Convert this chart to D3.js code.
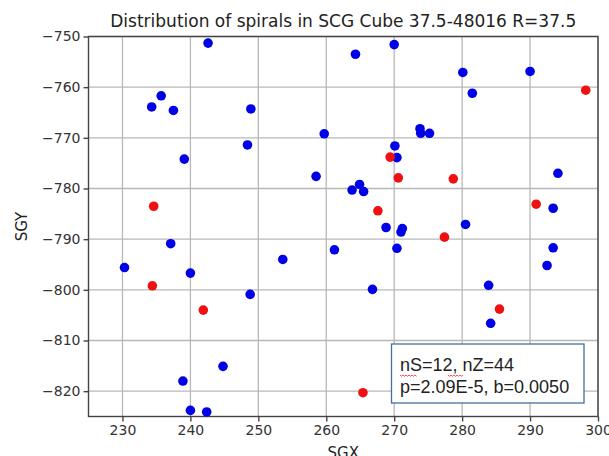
<!DOCTYPE html>
<meta charset="utf-8">
<style>
body { margin: 0; background: #fff; }
text { font-family: "DejaVu Sans", sans-serif; fill: #222; }
.grid line { stroke: #b8b8b8; stroke-width: 1.3; }
.axis path, .axis line { stroke: #444; stroke-width: 1.4; }
.axis text { font-size: 14px; fill: #333; }
.note { font-family: "Liberation Sans", Arial, sans-serif; font-size: 18px; fill: #222; }
</style>
<body>
<script src="https://d3js.org/d3.v7.min.js"></script>
<script>
var w = 609, h = 456;
var margin = {top: 36.5, right: 11, bottom: 39.5, left: 88.5};

var title = "Distribution of spirals in SCG Cube 37.5-48016 R=37.5";
var xTicks = [230, 240, 250, 260, 270, 280, 290, 300];
var yTicks = [-750, -760, -770, -780, -790, -800, -810, -820];
var noteLines = ["nS=12, nZ=44", "p=2.09E-5, b=0.0050"];

// S spirals (red)
var sX = [234.6, 298.2, 269.4, 270.6, 278.7, 290.9, 267.6, 277.4, 234.4, 241.9, 285.5, 265.4];
var sY = [-783.5, -760.6, -773.8, -777.9, -778.1, -783.1, -784.4, -789.6, -799.2, -804.0, -803.8, -820.3];

// Z spirals (blue)
var zX = [242.6, 234.3, 235.7, 237.5, 239.1, 248.9, 248.4, 259.7, 258.5, 264.3, 270.0,
          280.1, 290.0, 281.5, 273.8, 273.9, 275.2, 270.1, 270.4, 294.1, 264.9, 263.8,
          265.5, 293.4, 268.8, 271.2, 271.0, 280.5, 237.1, 230.3, 240.0, 248.8, 253.6,
          261.2, 244.8, 238.9, 240.0, 242.4, 270.4, 293.4, 292.5, 266.8, 283.9, 284.2];
var zY = [-751.3, -763.9, -761.7, -764.6, -774.2, -764.3, -771.4, -769.2, -777.6, -753.5, -751.6,
          -757.1, -756.9, -761.2, -768.2, -769.1, -769.1, -771.6, -773.9, -777.0, -779.2, -780.3,
          -780.6, -783.9, -787.7, -787.9, -788.6, -787.1, -790.9, -795.6, -796.7, -800.9, -794.0,
          -792.1, -815.1, -818.0, -823.8, -824.1, -791.8, -791.7, -795.2, -799.9, -799.1, -806.6];

var iw = w - margin.left - margin.right, ih = h - margin.top - margin.bottom;

var svg = d3.select("body").append("svg")
    .attr("width", w)
    .attr("height", h);

var g = svg.append("g").attr("transform", "translate(" + margin.left + "," + margin.top + ")");

var x = d3.scaleLinear().domain([225, 300]).range([0, iw]);
var y = d3.scaleLinear().domain([-825, -750]).range([ih, 0]);

// grid
g.append("g").attr("class", "grid")
    .selectAll("line").data(xTicks)
    .enter().append("line")
    .attr("x1", x).attr("x2", x).attr("y1", 0).attr("y2", ih);
g.append("g").attr("class", "grid")
    .selectAll("line").data(yTicks)
    .enter().append("line")
    .attr("y1", y).attr("y2", y).attr("x1", 0).attr("x2", iw);

// frame
g.append("rect").attr("width", iw).attr("height", ih)
    .attr("fill", "none").attr("stroke", "#444").attr("stroke-width", 1.4);

var minus = function(d){ return d < 0 ? "\u2212" + Math.abs(d) : d; };

g.append("g").attr("class", "axis")
    .attr("transform", "translate(0," + ih + ")")
    .call(d3.axisBottom(x).tickValues(xTicks).tickSizeOuter(0).tickSize(5).tickPadding(4))
    .call(function(s){ s.select(".domain").remove(); });

g.append("g").attr("class", "axis")
    .call(d3.axisLeft(y).tickValues(yTicks).tickFormat(minus).tickSizeOuter(0).tickSize(5).tickPadding(3))
    .call(function(s){ s.select(".domain").remove(); });

// points
var zData = zX.map(function(v, i){ return [v, zY[i]]; });
var sData = sX.map(function(v, i){ return [v, sY[i]]; });

g.append("g").selectAll("circle").data(zData).enter().append("circle")
    .attr("cx", function(d){ return x(d[0]); })
    .attr("cy", function(d){ return y(d[1]); })
    .attr("r", 4.8).attr("fill", "#0000e6");

g.append("g").selectAll("circle").data(sData).enter().append("circle")
    .attr("cx", function(d){ return x(d[0]); })
    .attr("cy", function(d){ return y(d[1]); })
    .attr("r", 4.8).attr("fill", "#ee1111");

// title and labels
svg.append("text")
    .attr("x", margin.left + iw / 2).attr("y", 27)
    .attr("text-anchor", "middle").style("font-size", "17px")
    .text(title);

svg.append("text")
    .attr("transform", "translate(27," + (margin.top + ih / 2) + ") rotate(-90)")
    .attr("text-anchor", "middle").style("font-size", "15px")
    .text("SGY");

svg.append("text")
    .attr("x", margin.left + iw / 2).attr("y", 458)
    .attr("text-anchor", "middle").style("font-size", "15px")
    .text("SGX");

// annotation box
var box = svg.append("g");
box.append("rect")
    .attr("x", 391.5).attr("y", 344).attr("width", 192.5).attr("height", 59)
    .attr("fill", "#fff").attr("stroke", "#41719c").attr("stroke-width", 1.3);
box.selectAll("text.note").data(noteLines).enter().append("text")
    .attr("class", "note")
    .attr("x", 400).attr("y", function(d, i){ return 371 + i * 22; })
    .text(function(d){ return d; });

// spell-check squiggles under nS and nZ
var sq = [[400, 417], [448, 464]];
sq.forEach(function(r){
    var pts = [];
    for (var px = r[0], k = 0; px <= r[1]; px += 1.5, k++) pts.push([px, 375 + (k % 2 ? 1.3 : 0)]);
    box.append("path").attr("d", d3.line()(pts))
        .attr("fill", "none").attr("stroke", "#e04040").attr("stroke-width", 0.9);
});
</script>
</body>
